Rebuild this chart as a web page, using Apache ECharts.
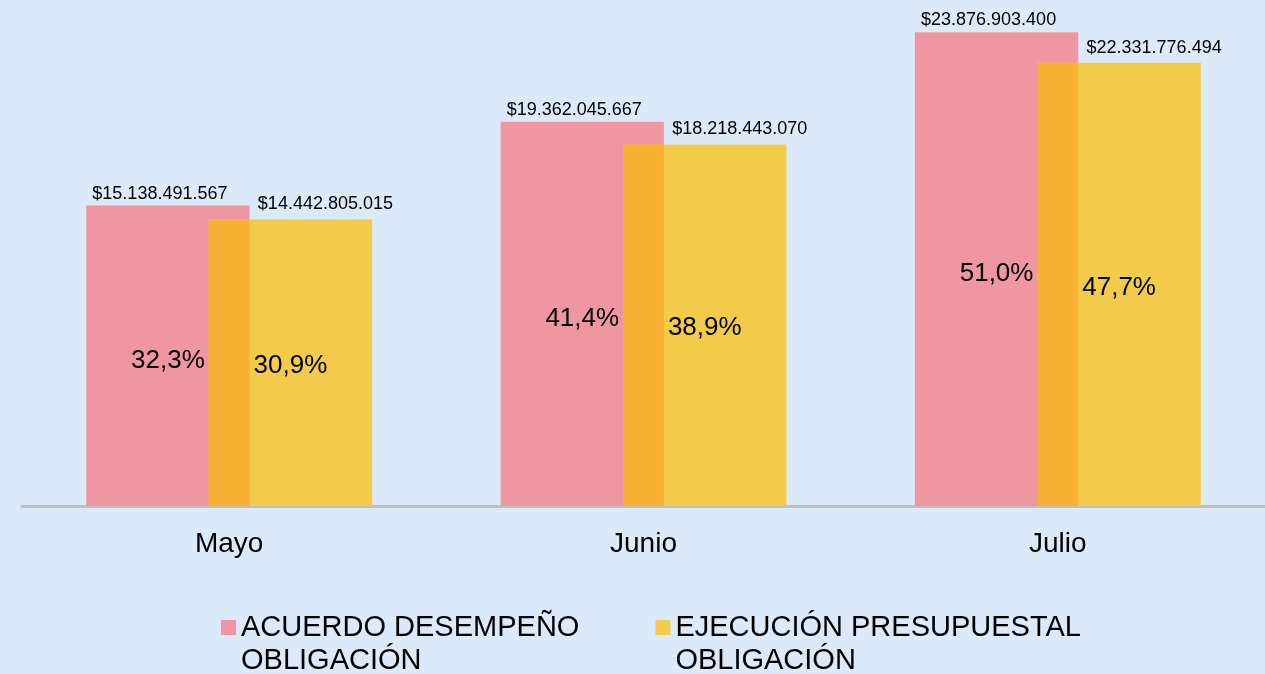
<!DOCTYPE html>
<html>
<head>
<meta charset="utf-8">
<script src="https://cdn.jsdelivr.net/npm/echarts@6/dist/echarts.min.js"></script>
<style>
  html, body { margin: 0; padding: 0; background: #dce9f9; }
  #main { width: 1265px; height: 674px; }
</style>
</head>
<body>
<div id="main"></div>
<script>
var meses = ['Mayo', 'Junio', 'Julio'];
var acuerdo = [15138491567, 19362045667, 23876903400];
var ejecucion = [14442805015, 18218443070, 22331776494];
var pctAcuerdo = [32.3, 41.4, 51.0];
var pctEjecucion = [30.9, 38.9, 47.7];
var nombres = ['ACUERDO DESEMPEÑO\nOBLIGACIÓN', 'EJECUCIÓN PRESUPUESTAL\nOBLIGACIÓN'];

var FONT = "'Liberation Sans', Arial, sans-serif";
var CAT_GAP = 0.31;   // barCategoryGap
var GAP = -0.25;      // barGap

function dinero(v) {
	return '$' + String(v).replace(/\B(?=(\d{3})+(?!\d))/g, '.');
}
function porcentaje(v) {
	return v.toFixed(1).replace('.', ',') + '%';
}

// zona donde se cruzan las dos barras + etiquetas de porcentaje
var cruce = meses.map(function(m, i) {
	return [i, Math.min(acuerdo[i], ejecucion[i]), acuerdo[i], ejecucion[i], pctAcuerdo[i], pctEjecucion[i]];
});

var chart = echarts.init(document.getElementById('main'));
chart.setOption({
	backgroundColor: '#dce9f9',
	animation: false,
	grid: { left: 22, right: -1, top: 0, bottom: 168 },
	legend: {
		data: nombres,
		left: 221,
		top: 578,
		padding: 0,
		icon: 'rect',
		itemWidth: 15,
		itemHeight: 15,
		itemGap: 76,
		// linea vacia arriba para que el cuadro quede a la altura de la primera linea
		formatter: function(name) { return '\n' + name; },
		textStyle: {
			fontFamily: FONT,
			fontSize: 29,
			lineHeight: 33,
			color: '#000'
		}
	},
	xAxis: {
		type: 'category',
		data: meses,
		axisTick: { show: false },
		axisLine: { lineStyle: { color: '#bfbfbf', width: 3 } },
		axisLabel: { fontFamily: FONT, fontSize: 28, color: '#000', margin: 24 }
	},
	yAxis: {
		type: 'value',
		min: 0,
		max: 25.5e9,
		show: false,
		splitLine: { show: false }
	},
	series: [{
		name: nombres[0],
		type: 'bar',
		data: acuerdo,
		barGap: (GAP * 100) + '%',
		barCategoryGap: (CAT_GAP * 100) + '%',
		itemStyle: { color: '#ee97a3' },
		label: {
			show: true,
			position: 'top',
			distance: 3,
			offset: [-8, 0],
			fontFamily: FONT,
			fontSize: 18,
			color: '#000',
			formatter: function(p) { return dinero(p.value); }
		}
	}, {
		name: nombres[1],
		type: 'bar',
		data: ejecucion,
		itemStyle: { color: '#f2cb4b' },
		label: {
			show: true,
			position: 'top',
			distance: 6,
			offset: [35, 0],
			fontFamily: FONT,
			fontSize: 18,
			color: '#000',
			formatter: function(p) { return dinero(p.value); }
		}
	}, {
		type: 'custom',
		data: cruce,
		z: 3,
		renderItem: function(params, api) {
			var idx = api.value(0);
			var base = api.coord([idx, 0]);
			var band = api.size([1, 0])[0];
			var w = band * (1 - CAT_GAP) / (2 + GAP);
			var top = api.coord([idx, api.value(1)]);
			var midA = api.coord([idx, api.value(2) / 2]);
			var midE = api.coord([idx, api.value(3) / 2]);
			var half = (2 + GAP) * w / 2;
			return {
				type: 'group',
				children: [{
					type: 'rect',
					shape: {
						x: base[0] - half + (1 + GAP) * w,
						y: top[1],
						width: -GAP * w,
						height: base[1] - top[1]
					},
					style: { fill: '#f9b133' }
				}, {
					type: 'text',
					x: base[0] - half + w / 2,
					y: midA[1] + 5,
					style: {
						text: porcentaje(api.value(4)),
						font: '26px ' + FONT,
						fill: '#000',
						align: 'center',
						verticalAlign: 'middle'
					}
				}, {
					type: 'text',
					x: base[0] + half - w / 2,
					y: midE[1] + 3,
					style: {
						text: porcentaje(api.value(5)),
						font: '26px ' + FONT,
						fill: '#000',
						align: 'center',
						verticalAlign: 'middle'
					}
				}]
			};
		}
	}]
});
</script>
</body>
</html>
